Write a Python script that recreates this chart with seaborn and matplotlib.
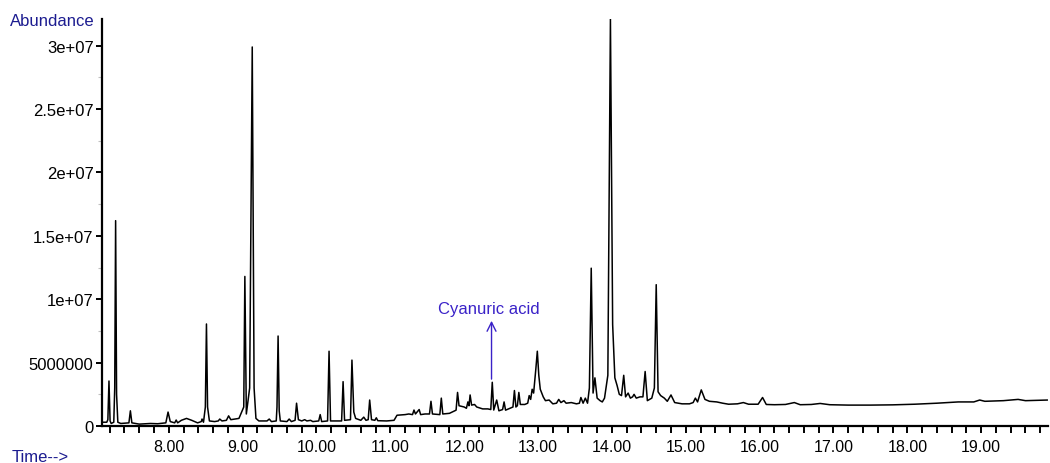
import numpy as np
import matplotlib
matplotlib.use("Agg")
import matplotlib.pyplot as plt
import seaborn as sns
from matplotlib.ticker import FixedLocator, FixedFormatter, MultipleLocator

# GC-MS total ion chromatogram, vertices
# time in minutes, abundance in millions of counts
time_min = [
    # 7.0 - 8.0
    7.095, 7.16, 7.175, 7.19, 7.205, 7.22, 7.255, 7.268, 7.28, 7.293, 7.31, 7.35,
    7.46, 7.48, 7.50, 7.60, 7.75, 7.85, 7.96, 7.99,
    # 8.0 - 9.0
    8.02, 8.08, 8.10, 8.12, 8.17, 8.24, 8.31, 8.39, 8.44, 8.45, 8.47, 8.495,
    8.51, 8.525, 8.55, 8.62, 8.67, 8.69, 8.72, 8.78, 8.81, 8.84, 8.95,
    # 9.0 - 10.0
    9.015, 9.03, 9.05, 9.095, 9.13, 9.155, 9.18, 9.22, 9.33, 9.36, 9.39, 9.455,
    9.465, 9.48, 9.495, 9.51, 9.60, 9.63, 9.66, 9.71, 9.73, 9.755, 9.80, 9.84,
    9.87, 9.92, 9.95,
    # 10.0 - 11.0
    10.03, 10.05, 10.07, 10.15, 10.17, 10.19, 10.34, 10.36, 10.38, 10.46, 10.48,
    10.505, 10.53, 10.60, 10.64, 10.67, 10.70, 10.72, 10.745, 10.79, 10.81,
    10.83, 10.95,
    # 11.0 - 12.0
    11.05, 11.09, 11.20, 11.25, 11.30, 11.32, 11.34, 11.39, 11.41, 11.47, 11.53,
    11.55, 11.57, 11.67, 11.69, 11.71, 11.80, 11.89, 11.91, 11.93,
    # 12.0 - 13.0
    12.00, 12.03, 12.05, 12.065, 12.08, 12.10, 12.14, 12.17, 12.25, 12.32,
    12.36, 12.38, 12.40, 12.44, 12.47, 12.52, 12.54, 12.56, 12.62, 12.66,
    12.68, 12.70, 12.72, 12.74, 12.76, 12.82, 12.86, 12.88, 12.90, 12.92,
    12.94, 12.97, 12.99,
    # 13.0 - 14.0
    13.01, 13.03, 13.07, 13.10, 13.15, 13.20, 13.25, 13.28, 13.31, 13.35,
    13.38, 13.45, 13.52, 13.56, 13.58, 13.61, 13.64, 13.67, 13.695, 13.72,
    13.745, 13.77, 13.80, 13.84, 13.87, 13.90, 13.945, 13.98,
    # 14.0 - 15.0
    14.01, 14.04, 14.07, 14.10, 14.13, 14.16, 14.185, 14.22, 14.25, 14.28,
    14.30, 14.33, 14.38, 14.42, 14.45, 14.48, 14.54, 14.575, 14.60, 14.625,
    14.66, 14.71, 14.75, 14.80, 14.85, 14.95,
    # 15.0 - 16.0
    15.05, 15.10, 15.13, 15.16, 15.21, 15.26, 15.32, 15.42, 15.50, 15.58,
    15.70, 15.78, 15.85, 15.98,
    # 16.0 - 19.9
    16.04, 16.09, 16.20, 16.35, 16.47, 16.55, 16.70, 16.82, 16.95, 17.20,
    17.50, 17.80, 18.10, 18.40, 18.69, 18.90, 18.98, 19.05, 19.30, 19.50,
    19.60, 19.90,
]

abundance_m = [
    # 7.0 - 8.0
    0.30, 0.30, 0.50, 3.55, 0.40, 0.20, 0.30, 3.00, 16.2, 2.50, 0.30, 0.20,
    0.25, 1.20, 0.25, 0.15, 0.20, 0.18, 0.25, 1.10,
    # 8.0 - 9.0
    0.35, 0.25, 0.47, 0.25, 0.45, 0.60, 0.45, 0.25, 0.35, 0.55, 0.30, 1.50,
    8.05, 1.50, 0.40, 0.35, 0.40, 0.55, 0.40, 0.45, 0.80, 0.50, 0.60,
    # 9.0 - 10.0
    1.50, 11.8, 0.95, 3.00, 29.9, 3.00, 0.60, 0.40, 0.40, 0.55, 0.35, 0.40,
    1.50, 7.10, 1.20, 0.40, 0.35, 0.55, 0.35, 0.45, 1.80, 0.50, 0.40, 0.50,
    0.40, 0.45, 0.35,
    # 10.0 - 11.0
    0.40, 0.90, 0.35, 0.40, 5.90, 0.40, 0.40, 3.50, 0.45, 0.50, 5.20,
    1.10, 0.60, 0.45, 0.70, 0.45, 0.50, 2.05, 0.50, 0.45, 0.65,
    0.42, 0.40,
    # 11.0 - 12.0
    0.45, 0.85, 0.90, 0.95, 0.90, 1.26, 0.95, 1.30, 0.90, 0.95, 0.95,
    1.95, 0.95, 0.90, 2.20, 0.95, 1.00, 1.25, 2.65, 1.60,
    # 12.0 - 13.0
    1.50, 1.40, 1.90, 1.60, 2.45, 1.65, 1.70, 1.50, 1.35, 1.35,
    1.30, 3.45, 1.26, 2.05, 1.20, 1.30, 1.90, 1.25, 1.40, 1.50,
    2.80, 1.50, 1.60, 2.65, 1.70, 1.70, 1.80, 2.40, 2.10, 2.90,
    2.60, 4.50, 5.90,
    # 13.0 - 14.0
    4.00, 2.90, 2.30, 2.00, 2.05, 1.75, 1.80, 2.10, 1.85, 2.00,
    1.80, 1.85, 1.75, 1.80, 2.25, 1.80, 2.20, 1.80, 3.00, 12.45,
    2.60, 3.80, 2.20, 2.00, 1.90, 2.20, 4.00, 32.1,
    # 14.0 - 15.0
    8.00, 3.80, 3.20, 2.50, 2.40, 4.00, 2.30, 2.60, 2.20, 2.30,
    2.50, 2.20, 2.30, 2.30, 4.30, 2.00, 2.20, 3.00, 11.15, 2.70,
    2.40, 2.20, 1.95, 2.45, 1.85, 1.75,
    # 15.0 - 16.0
    1.75, 1.85, 2.20, 1.90, 2.85, 2.10, 1.95, 1.90, 1.80, 1.72,
    1.75, 1.85, 1.72, 1.72,
    # 16.0 - 19.9
    2.25, 1.70, 1.68, 1.70, 1.85, 1.68, 1.70, 1.78, 1.68, 1.65,
    1.65, 1.67, 1.72, 1.80, 1.90, 1.90, 2.05, 1.95, 2.00, 2.10,
    2.00, 2.05,
]

x_major = [8, 9, 10, 11, 12, 13, 14, 15, 16, 17, 18, 19]
x_labels = ["8.00", "9.00", "10.00", "11.00", "12.00", "13.00",
            "14.00", "15.00", "16.00", "17.00", "18.00", "19.00"]
y_major = [0, 5e6, 1e7, 1.5e7, 2e7, 2.5e7, 3e7]
y_labels = ["0", "5000000", "1e+07", "1.5e+07", "2e+07", "2.5e+07", "3e+07"]

annot_label = "Cyanuric acid"
annot_time = 12.37

df = {"time": np.array(time_min), "abundance": np.array(abundance_m) * 1e6}

sns.set_theme(style="ticks")
plt.rcParams["font.family"] = ["Liberation Sans", "DejaVu Sans"]

fig = plt.figure(figsize=(10.5, 4.64), dpi=100)
ax = fig.add_axes([0.0971, 0.0797, 0.901, 0.877])

sns.lineplot(data=df, x="time", y="abundance", ax=ax, color="black",
             linewidth=1.1, estimator=None, sort=False)

ax.set_xlim(7.095, 19.905)
ax.set_ylim(0, 3.21e7)
ax.set_xlabel("")
ax.set_ylabel("")

for side in ["top", "right"]:
    ax.spines[side].set_visible(False)
for side in ["left", "bottom"]:
    ax.spines[side].set_linewidth(1.6)
    ax.spines[side].set_color("black")

ax.xaxis.set_major_locator(FixedLocator(x_major))
ax.xaxis.set_major_formatter(FixedFormatter(x_labels))
ax.xaxis.set_minor_locator(MultipleLocator(0.2))
ax.yaxis.set_major_locator(FixedLocator(y_major))
ax.yaxis.set_major_formatter(FixedFormatter(y_labels))
ax.yaxis.set_minor_locator(MultipleLocator(2.5e6))

ax.tick_params(axis="x", which="both", direction="out", length=5, width=1.4,
               color="black", labelcolor="black", labelsize=11.5, pad=4)
ax.tick_params(axis="y", which="major", direction="out", length=4, width=1.4,
               color="black", labelcolor="black", labelsize=12, pad=2)
ax.tick_params(axis="y", which="minor", direction="out", length=3, width=0.8,
               color="#c0c0c0")

blue = "#3a22c8"
ax.annotate("", xy=(annot_time, 8.3e6), xytext=(annot_time, 3.7e6),
            arrowprops=dict(arrowstyle="->", color=blue, lw=1.0,
                            mutation_scale=16, shrinkA=0, shrinkB=0))
ax.text(annot_time - 0.03, 9.3e6, annot_label, color=blue, fontsize=12,
        ha="center", va="center")

navy = "#1c1c90"
fig.text(0.0095, 0.9526, "Abundance", color=navy, fontsize=12,
         ha="left", va="center")
fig.text(0.011, 0.015, "Time-->", color=navy, fontsize=12,
         ha="left", va="center")

fig.savefig("out.png", dpi=100)
